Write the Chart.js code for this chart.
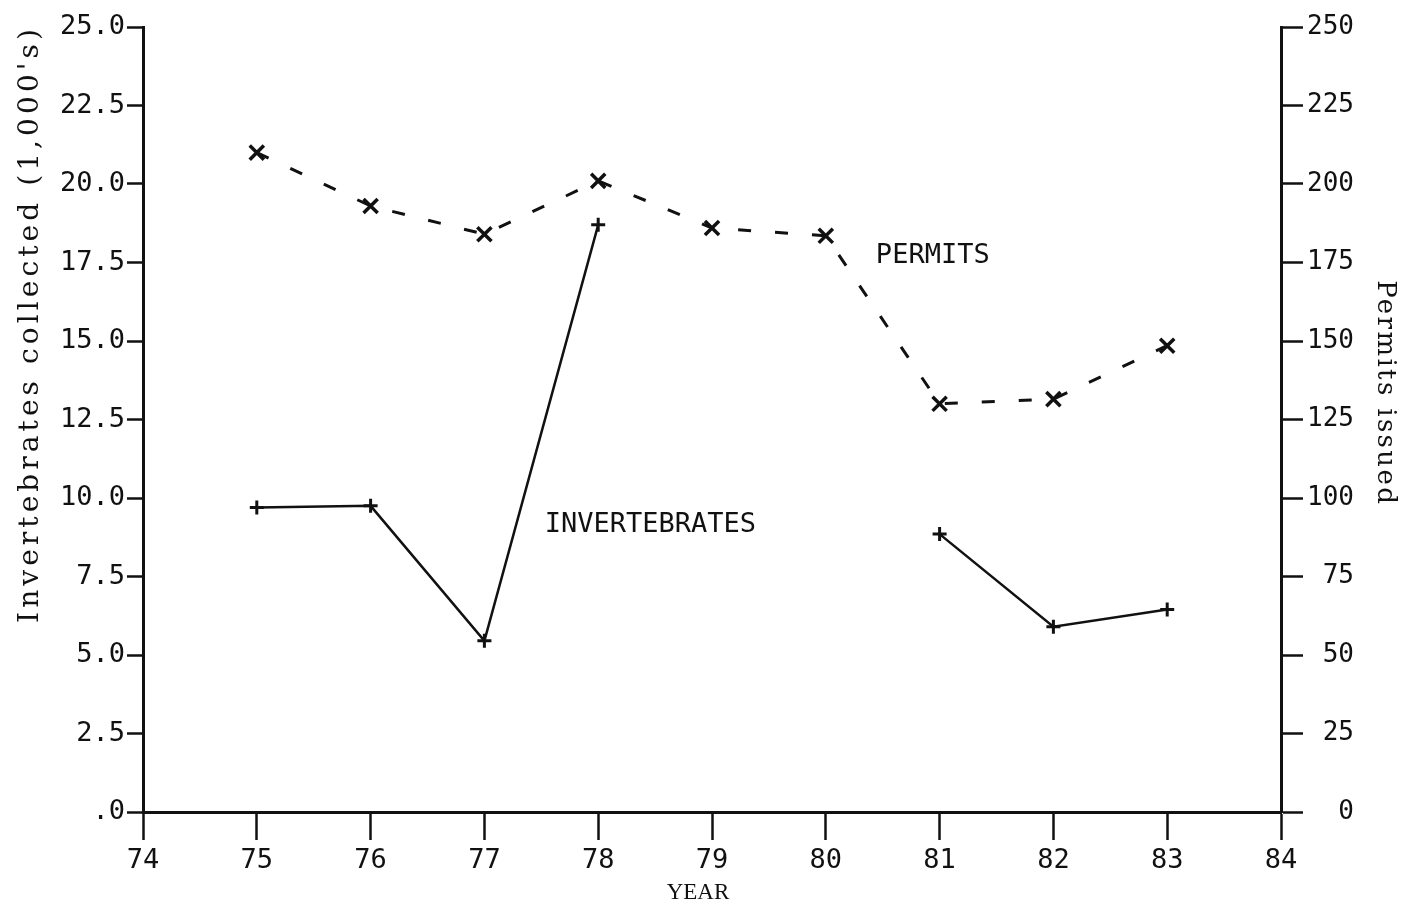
<!DOCTYPE html>
<html>
<head>
    <meta charset="UTF-8">
    <title>Invertebrates and permits</title>
    <script src="https://cdn.jsdelivr.net/npm/chart.js"></script>
    <style>
        body { margin: 0; background: #fff; }
    </style>
</head>
<body>
    <canvas id="permitChart" width="1403" height="908"></canvas>
    <script>
        // values (missing years = null)
        var years = [75, 76, 77, 78, 79, 80, 81, 82, 83];
        var invertebrates = [9.7, 9.75, 5.45, 18.7, null, null, 8.85, 5.9, 6.45];
        var permits = [210, 193, 184, 201, 186, 183.5, 130, 131.5, 148.5];

        var yearTicks = [74, 75, 76, 77, 78, 79, 80, 81, 82, 83, 84];
        var leftTicks = [0, 2.5, 5, 7.5, 10, 12.5, 15, 17.5, 20, 22.5, 25];
        var rightTicks = [0, 25, 50, 75, 100, 125, 150, 175, 200, 225, 250];

        // in-plot labels, placed in data units
        var seriesLabels = [
            { text: 'INVERTEBRATES', x: 77.53, y: 9.15, axis: 'y' },
            { text: 'PERMITS', x: 80.44, y: 177, axis: 'y1' }
        ];

        var plotFont = '"DejaVu Sans Mono", monospace';
        var typeFont = '"DejaVu Serif", serif';
        var ink = '#111';

        function toPoints(vals) {
            return years.map(function (yr, i) { return { x: yr, y: vals[i] }; });
        }

        // typewriter-style title: spread letters so the line has the wanted length
        function spacedText(ctx, text, len) {
            ctx.letterSpacing = '0px';
            var w = ctx.measureText(text).width;
            var sp = (len - w) / text.length;
            ctx.letterSpacing = sp + 'px';
            ctx.fillText(text, sp / 2, 0);
            ctx.letterSpacing = '0px';
        }

        var textPlugin = {
            id: 'plotTexts',
            afterDraw: function (chart) {
                var ctx = chart.ctx;
                var s = chart.scales;
                ctx.save();
                ctx.fillStyle = ink;
                ctx.textBaseline = 'middle';

                ctx.font = '27px ' + plotFont;
                ctx.textAlign = 'left';
                seriesLabels.forEach(function (l) {
                    ctx.fillText(l.text, s.x.getPixelForValue(l.x), s[l.axis].getPixelForValue(l.y));
                });

                // axis titles
                ctx.textAlign = 'center';
                ctx.save();
                ctx.translate(31, 326);
                ctx.rotate(-Math.PI / 2);
                ctx.font = '28px ' + typeFont;
                spacedText(ctx, "Invertebrates collected (1,000's)", 598);
                ctx.restore();

                ctx.save();
                ctx.translate(1385, 392);
                ctx.rotate(Math.PI / 2);
                ctx.font = '26px ' + typeFont;
                spacedText(ctx, 'Permits issued', 226);
                ctx.restore();

                ctx.font = '23px "Liberation Serif", serif';
                ctx.fillText('YEAR', 698, 893);
                ctx.restore();
            }
        };

        var ctx = document.getElementById('permitChart').getContext('2d');

        var chart = new Chart(ctx, {
            type: 'line',
            data: {
                datasets: [{
                    label: 'INVERTEBRATES',
                    data: toPoints(invertebrates),
                    yAxisID: 'y',
                    borderColor: ink,
                    borderWidth: 2.5,
                    pointStyle: 'cross',
                    pointRadius: 7,
                    pointBorderWidth: 3,
                    pointBorderColor: ink,
                    spanGaps: false,
                    fill: false,
                    tension: 0
                }, {
                    label: 'PERMITS',
                    data: toPoints(permits),
                    yAxisID: 'y1',
                    borderColor: ink,
                    borderWidth: 3,
                    borderDash: [13, 24],
                    pointStyle: 'crossRot',
                    pointRadius: 10,
                    pointBorderWidth: 3.5,
                    pointBorderColor: ink,
                    fill: false,
                    tension: 0
                }]
            },
            options: {
                responsive: false,
                animation: false,
                devicePixelRatio: 1,
                layout: { padding: { top: 27, right: 49, left: 0, bottom: 0 } },
                plugins: {
                    legend: { display: false },
                    tooltip: { enabled: false }
                },
                scales: {
                    x: {
                        type: 'linear',
                        position: 'bottom',
                        min: 74,
                        max: 84,
                        afterBuildTicks: function (s) { s.ticks = yearTicks.map(function (v) { return { value: v }; }); },
                        afterFit: function (s) { s.height = 96; },
                        ticks: { color: ink, font: { family: plotFont, size: 27 }, padding: 5 },
                        grid: { drawOnChartArea: false, tickLength: 28, tickWidth: 2.5, tickColor: ink },
                        border: { color: ink, width: 3 }
                    },
                    y: {
                        position: 'left',
                        min: 0,
                        max: 25,
                        afterBuildTicks: function (s) { s.ticks = leftTicks.map(function (v) { return { value: v }; }); },
                        afterFit: function (s) { s.width = 143; },
                        ticks: {
                            color: ink,
                            font: { family: plotFont, size: 27 },
                            padding: 2,
                            callback: function (v) { return v === 0 ? '.0' : v.toFixed(1); }
                        },
                        grid: { drawOnChartArea: false, tickLength: 16, tickWidth: 2.5, tickColor: ink },
                        border: { color: ink, width: 3 }
                    },
                    y1: {
                        position: 'right',
                        min: 0,
                        max: 250,
                        afterBuildTicks: function (s) { s.ticks = rightTicks.map(function (v) { return { value: v }; }); },
                        afterFit: function (s) { s.width = 73; },
                        ticks: {
                            color: ink,
                            font: { family: plotFont, size: 26 },
                            padding: 3,
                            crossAlign: 'far'
                        },
                        grid: { drawOnChartArea: false, tickLength: 22, tickWidth: 2.5, tickColor: ink },
                        border: { color: ink, width: 3 }
                    }
                }
            },
            plugins: [textPlugin]
        });
    </script>
</body>
</html>
